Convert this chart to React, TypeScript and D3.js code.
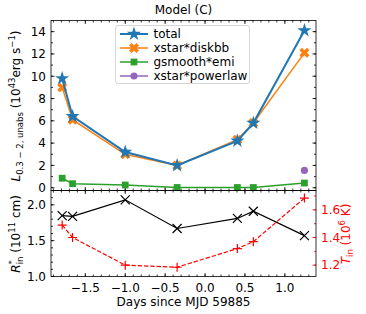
import React from "react";
import * as d3 from "d3";

const FONT = "DejaVu Sans, sans-serif";

// days since MJD 59885
const days = [-1.79, -1.66, -1.0, -0.35, 0.405, 0.605, 1.245];
const total = [9.8, 6.4, 3.2, 2.0, 4.2, 5.8, 14.1];
const diskbb = [9.0, 6.1, 3.0, 2.0, 4.3, 5.8, 12.1];
const gsmooth = [0.85, 0.36, 0.24, 0.02, 0.02, 0.02, 0.42];
const powerlawDay = [1.245];
const powerlaw = [1.55];
const rin = [1.85, 1.84, 2.07, 1.67, 1.81, 1.91, 1.57];
const tin = [1.49, 1.4, 1.2, 1.185, 1.32, 1.37, 1.685];

const xTicks = [-1.5, -1.0, -0.5, 0.0, 0.5, 1.0];
const lTicks = [0, 2, 4, 6, 8, 10, 12, 14];
const rTicks = [1.0, 1.5, 2.0];
const tTicks = [1.2, 1.4, 1.6];

const BLUE = "#1f77b4";
const ORANGE = "#ff7f0e";
const GREEN = "#2ca02c";
const PURPLE = "#9467bd";
const RED = "red";

const L = 51, R = 316, T1 = 20.5, B1 = 190.5, B2 = 276.5;

const x = d3.scaleLinear().domain([-1.93, 1.39]).range([L, R]);
const yL = d3.scaleLinear().domain([-0.25, 15]).range([B1, T1]);
const yR = d3.scaleLinear().domain([1.0, 2.2]).range([B2, B1]);
const yT = d3.scaleLinear().domain([1.118, 1.74]).range([B2, B1]);

const fmt = (v: number, d: number) => (v < 0 ? "\u2212" : "") + Math.abs(v).toFixed(d);

const star = d3.symbol().type(d3.symbolStar).size(62)()!;
const xfill = d3.symbol().type(d3.symbolCross).size(62)()!;
const square = d3.symbol().type(d3.symbolSquare).size(46)()!;
const circle = d3.symbol().type(d3.symbolCircle).size(40)()!;

function range(a: number, b: number, s: number) {
  const out: number[] = [];
  for (let v = a; v <= b + 1e-9; v += s) out.push(+v.toFixed(4));
  return out;
}

function Series({ xs, ys, yScale, color, width, path, rot = 0 }: any) {
  const line = d3.line<number>().x((_, i) => x(xs[i])).y((d) => yScale(d));
  return (
    <g>
      <path d={line(ys)!} fill="none" stroke={color} strokeWidth={width} />
      {ys.map((d: number, i: number) => (
        <path key={i} d={path} fill={color}
          transform={`translate(${x(xs[i])},${yScale(d)}) rotate(${rot})`} />
      ))}
    </g>
  );
}

export default function App() {
  const xMinor = range(-1.9, 1.3, 0.1);
  const lMinor = range(0, 14, 1);
  const rMinor = range(1.0, 2.2, 0.1);
  const tMinor = range(1.2, 1.7, 0.1);
  const rinLine = d3.line<number>().x((_, i) => x(days[i])).y((d) => yR(d));
  const tinLine = d3.line<number>().x((_, i) => x(days[i])).y((d) => yT(d));
  const legend = [
    { label: "total", color: BLUE, path: star, w: 2, rot: 0 },
    { label: "xstar*diskbb", color: ORANGE, path: xfill, w: 1.5, rot: 45 },
    { label: "gsmooth*emi", color: GREEN, path: square, w: 1.5, rot: 0 },
    { label: "xstar*powerlaw", color: PURPLE, path: circle, w: 1.5, rot: 0 },
  ];
  return (
    <svg width={366} height={314} style={{ position: "absolute", left: 0, top: 0 }}
      fontFamily={FONT} fontSize={12}>
      <rect width={366} height={314} fill="white" />
      <text x={183.5} y={14} textAnchor="middle">Model (C)</text>

      {/* x ticks on both panels */}
      <g stroke="black" strokeWidth={0.8}>
        {[T1, B1, B2].map((yy, k) => (
          <g key={k}>
            {xTicks.map((t) => (
              <g key={t}>
                {k !== 0 && <line x1={x(t)} x2={x(t)} y1={yy} y2={yy - 3.5} />}
                {k !== 2 && <line x1={x(t)} x2={x(t)} y1={yy} y2={yy + 3.5} />}
              </g>
            ))}
            {xMinor.map((t) => (
              <g key={t}>
                {k !== 0 && <line x1={x(t)} x2={x(t)} y1={yy} y2={yy - 2} />}
                {k !== 2 && <line x1={x(t)} x2={x(t)} y1={yy} y2={yy + 2} />}
              </g>
            ))}
          </g>
        ))}
        {lTicks.map((t) => (
          <g key={t}>
            <line x1={L} x2={L + 3.5} y1={yL(t)} y2={yL(t)} />
            <line x1={R} x2={R - 3.5} y1={yL(t)} y2={yL(t)} />
          </g>
        ))}
        {lMinor.map((t) => (
          <g key={t}>
            <line x1={L} x2={L + 2} y1={yL(t)} y2={yL(t)} />
            <line x1={R} x2={R - 2} y1={yL(t)} y2={yL(t)} />
          </g>
        ))}
        {rTicks.map((t) => <line key={t} x1={L} x2={L + 3.5} y1={yR(t)} y2={yR(t)} />)}
        {rMinor.map((t) => <line key={t} x1={L} x2={L + 2} y1={yR(t)} y2={yR(t)} />)}
      </g>
      <g stroke={RED} strokeWidth={0.8}>
        {tTicks.map((t) => <line key={t} x1={R} x2={R - 3.5} y1={yT(t)} y2={yT(t)} />)}
        {tMinor.map((t) => <line key={t} x1={R} x2={R - 2} y1={yT(t)} y2={yT(t)} />)}
      </g>

      {/* tick labels */}
      {xTicks.map((t) => (
        <text key={t} x={x(t)} y={B2 + 15} textAnchor="middle">{fmt(t, 1)}</text>
      ))}
      {lTicks.map((t) => (
        <text key={t} x={L - 5} y={yL(t) + 4.3} textAnchor="end">{t}</text>
      ))}
      {rTicks.map((t) => (
        <text key={t} x={L - 5} y={yR(t) + 4.3} textAnchor="end">{fmt(t, 1)}</text>
      ))}
      {tTicks.map((t) => (
        <text key={t} x={R + 5} y={yT(t) + 4.3} fill={RED}>{fmt(t, 1)}</text>
      ))}

      {/* top panel data */}
      <Series xs={days} ys={gsmooth} yScale={yL} color={GREEN} width={1.5} path={square} />
      <Series xs={powerlawDay} ys={powerlaw} yScale={yL} color={PURPLE} width={1.5} path={circle} />
      <Series xs={days} ys={diskbb} yScale={yL} color={ORANGE} width={1.5} path={xfill} rot={45} />
      <Series xs={days} ys={total} yScale={yL} color={BLUE} width={2} path={star} />

      {/* bottom panel data */}
      <path d={rinLine(rin)!} fill="none" stroke="black" strokeWidth={1.2} />
      {rin.map((d, i) => {
        const cx = x(days[i]), cy = yR(d), s = 4.5;
        return (
          <path key={i} d={`M${cx - s},${cy - s}L${cx + s},${cy + s}M${cx - s},${cy + s}L${cx + s},${cy - s}`}
            stroke="black" strokeWidth={1.2} />
        );
      })}
      <path d={tinLine(tin)!} fill="none" stroke={RED} strokeWidth={1.2} strokeDasharray="4.4,1.9" />
      {tin.map((d, i) => {
        const cx = x(days[i]), cy = yT(d), s = 4.5;
        return (
          <path key={i} d={`M${cx - s},${cy}L${cx + s},${cy}M${cx},${cy - s}L${cx},${cy + s}`}
            stroke={RED} strokeWidth={1.2} />
        );
      })}

      {/* frames */}
      <rect x={L} y={T1} width={R - L} height={B1 - T1} fill="none" stroke="black" strokeWidth={0.8} />
      <rect x={L} y={B1} width={R - L} height={B2 - B1} fill="none" stroke="black" strokeWidth={0.8} />

      {/* legend */}
      <g>
        <rect x={115.5} y={25.5} width={134} height={58} rx={2.5} fill="white" fillOpacity={0.8}
          stroke="#cccccc" strokeWidth={0.8} />
        {legend.map((e, i) => {
          const yy = 34 + i * 14;
          return (
            <g key={e.label}>
              <line x1={120} x2={148} y1={yy} y2={yy} stroke={e.color} strokeWidth={e.w} />
              <path d={e.path} fill={e.color} transform={`translate(134,${yy}) rotate(${e.rot})`} />
              <text x={153.5} y={yy + 4.3}>{e.label}</text>
            </g>
          );
        })}
      </g>

      {/* axis labels */}
      <text transform="translate(20,106) rotate(-90)" textAnchor="middle">
        <tspan fontStyle="italic">L</tspan>
        <tspan fontSize={8.5} dy={3}>0.3 − 2, unabs</tspan>
        <tspan dy={-3}> (10</tspan>
        <tspan fontSize={8.5} dy={-5}>43</tspan>
        <tspan dy={5}>erg s</tspan>
        <tspan fontSize={8.5} dy={-5}>−1</tspan>
        <tspan dy={5}>)</tspan>
      </text>
      <text transform="translate(20,234) rotate(-90)" textAnchor="middle">
        <tspan fontStyle="italic">R</tspan>
        <tspan fontSize={8.5} dy={-5}>*</tspan>
        <tspan fontSize={8.5} dx={-4} dy={8}>in</tspan>
        <tspan dy={-3}> (10</tspan>
        <tspan fontSize={8.5} dy={-5}>11</tspan>
        <tspan dy={5}> cm)</tspan>
      </text>
      <text transform="translate(350,234) rotate(-90)" textAnchor="middle" fill={RED}>
        <tspan fontStyle="italic">T</tspan>
        <tspan fontSize={8.5} dy={3}>in</tspan>
        <tspan dy={-3}> (10</tspan>
        <tspan fontSize={8.5} dy={-5}>6</tspan>
        <tspan dy={5}> K)</tspan>
      </text>
      <text x={183.5} y={306} textAnchor="middle">Days since MJD 59885</text>
    </svg>
  );
}
